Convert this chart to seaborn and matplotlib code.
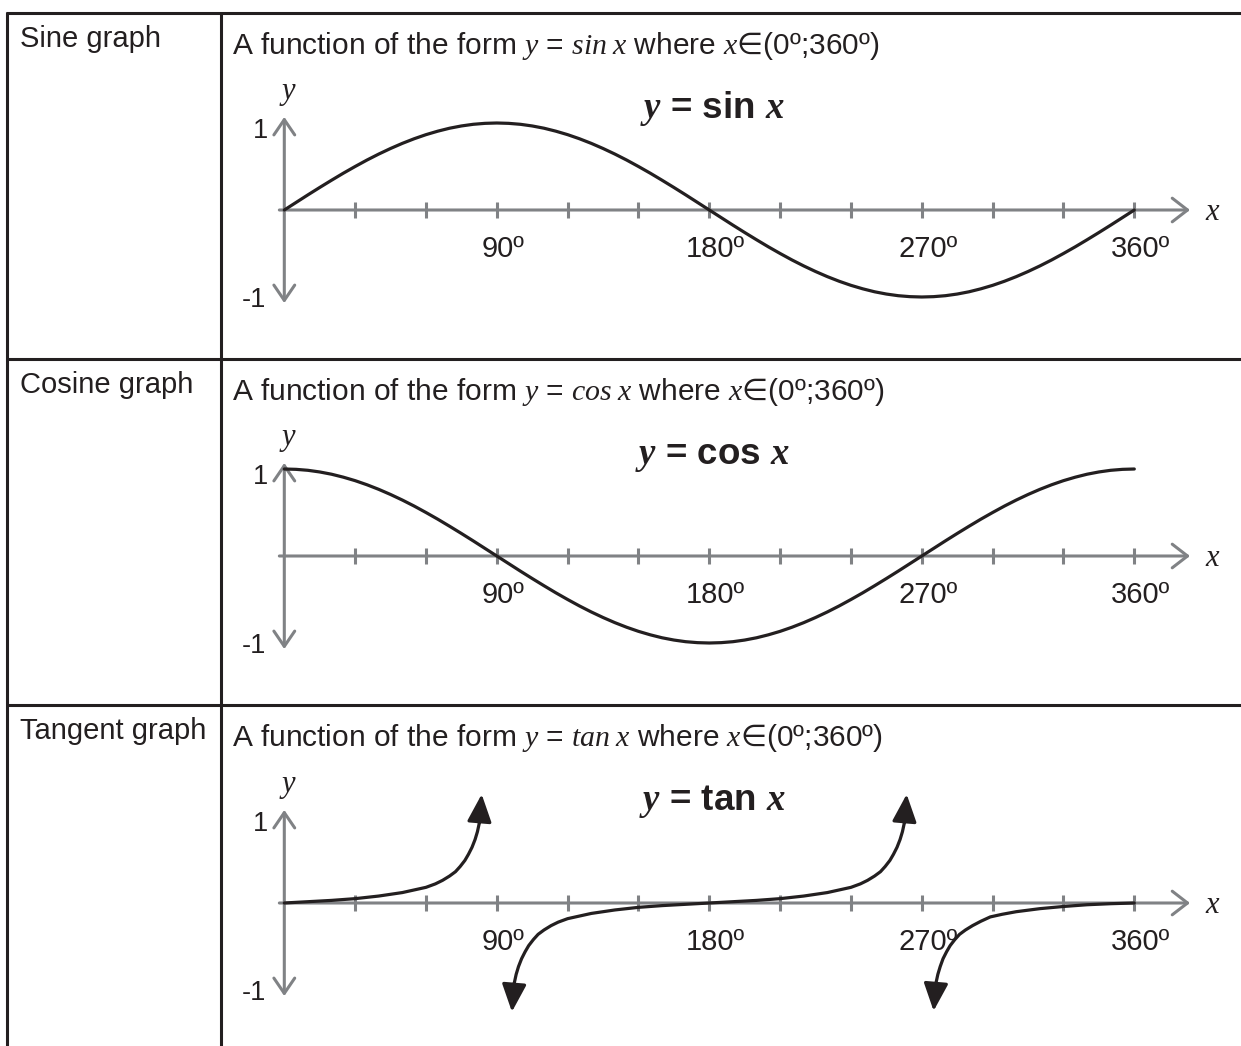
import matplotlib
matplotlib.use('Agg')
import matplotlib.pyplot as plt
import seaborn as sns

# ---- data ----
row_labels = ['Sine graph', 'Cosine graph', 'Tangent graph']
func_names = ['sin', 'cos', 'tan']

tick_degrees = [30, 60, 90, 120, 150, 180, 210, 240, 270, 300, 330, 360]
label_degrees = [90, 180, 270, 360]
label_texts = ['90º', '180º', '270º', '360º']

deg_step5 = list(range(0, 361, 5))
sin_vals = [0, 0.087, 0.174, 0.259, 0.342, 0.423, 0.500, 0.574, 0.643, 0.707, 0.766, 0.819, 0.866, 0.906, 0.940, 0.966, 0.985, 0.996, 1.000,
            0.996, 0.985, 0.966, 0.940, 0.906, 0.866, 0.819, 0.766, 0.707, 0.643, 0.574, 0.500, 0.423, 0.342, 0.259, 0.174, 0.087, 0,
            -0.087, -0.174, -0.259, -0.342, -0.423, -0.500, -0.574, -0.643, -0.707, -0.766, -0.819, -0.866, -0.906, -0.940, -0.966, -0.985, -0.996, -1.000,
            -0.996, -0.985, -0.966, -0.940, -0.906, -0.866, -0.819, -0.766, -0.707, -0.643, -0.574, -0.500, -0.423, -0.342, -0.259, -0.174, -0.087, 0]
cos_vals = [1.000, 0.996, 0.985, 0.966, 0.940, 0.906, 0.866, 0.819, 0.766, 0.707, 0.643, 0.574, 0.500, 0.423, 0.342, 0.259, 0.174, 0.087, 0,
            -0.087, -0.174, -0.259, -0.342, -0.423, -0.500, -0.574, -0.643, -0.707, -0.766, -0.819, -0.866, -0.906, -0.940, -0.966, -0.985, -0.996, -1.000,
            -0.996, -0.985, -0.966, -0.940, -0.906, -0.866, -0.819, -0.766, -0.707, -0.643, -0.574, -0.500, -0.423, -0.342, -0.259, -0.174, -0.087, 0,
            0.087, 0.174, 0.259, 0.342, 0.423, 0.500, 0.574, 0.643, 0.707, 0.766, 0.819, 0.866, 0.906, 0.940, 0.966, 0.985, 0.996, 1.000]

# tangent sketch: three branches, arrow heads at the open ends
tan_b1_deg = [0, 10, 20, 30, 40, 50, 55, 60, 64, 67, 70, 72.5, 74.5, 76.5, 78, 79.5, 80.8, 81.8, 82.6, 83.6]
tan_b1_val = [0, 0.015, 0.03, 0.05, 0.08, 0.12, 0.15, 0.18, 0.22, 0.26, 0.31, 0.36, 0.42, 0.49, 0.56, 0.64, 0.73, 0.82, 0.92, 1.25]
tan_b2_deg = [96.4, 97.4, 98.2, 99.2, 100.5, 102, 103.5, 105.5, 107.5, 110, 113, 116, 120, 125, 130, 140, 150, 160, 170, 180,
              190, 200, 210, 220, 230, 235, 240, 244, 247, 250, 252.5, 254.5, 256.5, 258, 259.5, 260.8, 261.8, 262.6, 263.6]
tan_b2_val = [-1.25, -0.92, -0.82, -0.73, -0.64, -0.56, -0.49, -0.42, -0.36, -0.31, -0.26, -0.22, -0.18, -0.15, -0.12, -0.08, -0.05, -0.03, -0.015, 0,
              0.015, 0.03, 0.05, 0.08, 0.12, 0.15, 0.18, 0.22, 0.26, 0.31, 0.36, 0.42, 0.49, 0.56, 0.64, 0.73, 0.82, 0.92, 1.25]
tan_b3_deg = [275.0, 276, 276.8, 277.8, 279, 280.5, 282, 284, 286, 288.5, 291.5, 295, 299, 304, 310, 320, 330, 340, 350, 360]
tan_b3_val = [-1.24, -0.92, -0.82, -0.73, -0.64, -0.56, -0.49, -0.42, -0.36, -0.31, -0.26, -0.21, -0.16, -0.13, -0.10, -0.065, -0.04, -0.02, -0.008, 0]

# ---- style ----
sns.set_theme(style='white')
plt.rcParams['font.family'] = ['Liberation Sans', 'DejaVu Sans']
plt.rcParams['mathtext.fontset'] = 'custom'
plt.rcParams['mathtext.rm'] = 'Liberation Sans'
plt.rcParams['mathtext.it'] = 'Liberation Serif:italic'
plt.rcParams['mathtext.bf'] = 'Liberation Serif:italic:bold'
plt.rcParams['mathtext.sf'] = 'DejaVu Sans'

INK = '#231f20'
GREY = '#808285'
W, H = 1241, 1046

fig = plt.figure(figsize=(W / 100, H / 100), dpi=100)

# table frame drawn in pixel coordinates
frame = fig.add_axes([0, 0, 1, 1])
frame.set_xlim(0, W)
frame.set_ylim(H, 0)
frame.axis('off')
rule = dict(color=INK, lw=2.2, solid_capstyle='butt')
frame.plot([6, W], [13, 13], **rule)
frame.plot([7, 7], [12, H], **rule)
frame.plot([221, 221], [12, H], **rule)
row_tops = [13, 359, 705]
for y in row_tops[1:]:
    frame.plot([6, W], [y, y], **rule)

for i, top in enumerate(row_tops):
    frame.text(20, top + 34, row_labels[i], fontsize=21, color=INK, va='baseline')
    f = func_names[i]
    frame.text(232, top + 41,
               'A function of the form $\\mathit{y}$ = $\\mathit{' + f + '}\\;\\mathit{x}$ where '
               '$\\mathit{x}\\mathsf{\u2208}$(0º;360º)',
               fontsize=21.5, color=INK, va='baseline')
    frame.text(712, top + 105, '$\\mathbf{y}$ = ' + f + ' $\\mathbf{x}$',
               fontsize=26.5, fontweight='bold', color=INK, ha='center', va='baseline')

# ---- the three little graphs ----
X0 = 284.3          # pixel of the origin
PX_DEG = 850 / 360  # pixels per degree
PX_UNIT = 87        # pixels per unit of y
XLIM = (-15, 400)
YLIM = (-1.4, 1.4)
origins = [210, 556, 903]


def make_axes(oy):
    left = (X0 + XLIM[0] * PX_DEG) / W
    width = (XLIM[1] - XLIM[0]) * PX_DEG / W
    height = (YLIM[1] - YLIM[0]) * PX_UNIT / H
    bottom = (H - (oy - YLIM[0] * PX_UNIT)) / H
    ax = fig.add_axes([left, bottom, width, height])
    ax.set_xlim(*XLIM)
    ax.set_ylim(*YLIM)
    ax.axis('off')
    return ax


def draw_frame(ax):
    ax.annotate('', xy=(383.6, 0), xytext=(-2.1, 0),
                arrowprops=dict(arrowstyle='->,head_length=11,head_width=8.5', mutation_scale=1,
                                color=GREY, lw=2.2, shrinkA=0, shrinkB=0))
    ax.annotate('', xy=(0, 1.07), xytext=(0, -1.07),
                arrowprops=dict(arrowstyle='<->,head_length=11,head_width=7.5', mutation_scale=1,
                                color=GREY, lw=2.2, shrinkA=0, shrinkB=0))
    ax.vlines(tick_degrees, -0.095, 0.095, color=GREY, lw=2.2)
    for d, t in zip(label_degrees, label_texts):
        ax.text(d + 2.5, -0.54, t, fontsize=21, color=INK, ha='center', va='baseline')
    ax.text(-7, 0.83, '1', fontsize=19.5, color=INK, ha='right', va='baseline')
    ax.text(-7.5, -1.11, '-1', fontsize=19.5, color=INK, ha='right', va='baseline')
    ax.text(1.8, 1.28, 'y', fontsize=22, family='Liberation Serif', style='italic',
            color=INK, ha='center', va='baseline')
    ax.text(392.8, -0.11, 'x', fontsize=22, family='Liberation Serif', style='italic',
            color=INK, ha='center', va='baseline')


def arrow_head(ax, tip, prev):
    ax.annotate('', xy=tip, xytext=prev, zorder=4,
                arrowprops=dict(arrowstyle='-|>,head_length=17,head_width=7.5', mutation_scale=1,
                                color=INK, lw=2.3, shrinkA=0, shrinkB=0))


curve = dict(color=INK, linewidth=2.3, zorder=3)

ax_sin = make_axes(origins[0])
draw_frame(ax_sin)
sns.lineplot(x=deg_step5, y=sin_vals, ax=ax_sin, **curve)

ax_cos = make_axes(origins[1])
draw_frame(ax_cos)
sns.lineplot(x=deg_step5, y=cos_vals, ax=ax_cos, **curve)

ax_tan = make_axes(origins[2])
draw_frame(ax_tan)
sns.lineplot(x=tan_b1_deg[:-1], y=tan_b1_val[:-1], ax=ax_tan, **curve)
arrow_head(ax_tan, (tan_b1_deg[-1], tan_b1_val[-1]), (tan_b1_deg[-2], tan_b1_val[-2]))
sns.lineplot(x=tan_b2_deg[1:-1], y=tan_b2_val[1:-1], ax=ax_tan, **curve)
arrow_head(ax_tan, (tan_b2_deg[0], tan_b2_val[0]), (tan_b2_deg[1], tan_b2_val[1]))
arrow_head(ax_tan, (tan_b2_deg[-1], tan_b2_val[-1]), (tan_b2_deg[-2], tan_b2_val[-2]))
sns.lineplot(x=tan_b3_deg[1:], y=tan_b3_val[1:], ax=ax_tan, **curve)
arrow_head(ax_tan, (tan_b3_deg[0], tan_b3_val[0]), (tan_b3_deg[1], tan_b3_val[1]))

fig.savefig('out.png', dpi=100, facecolor='white')
